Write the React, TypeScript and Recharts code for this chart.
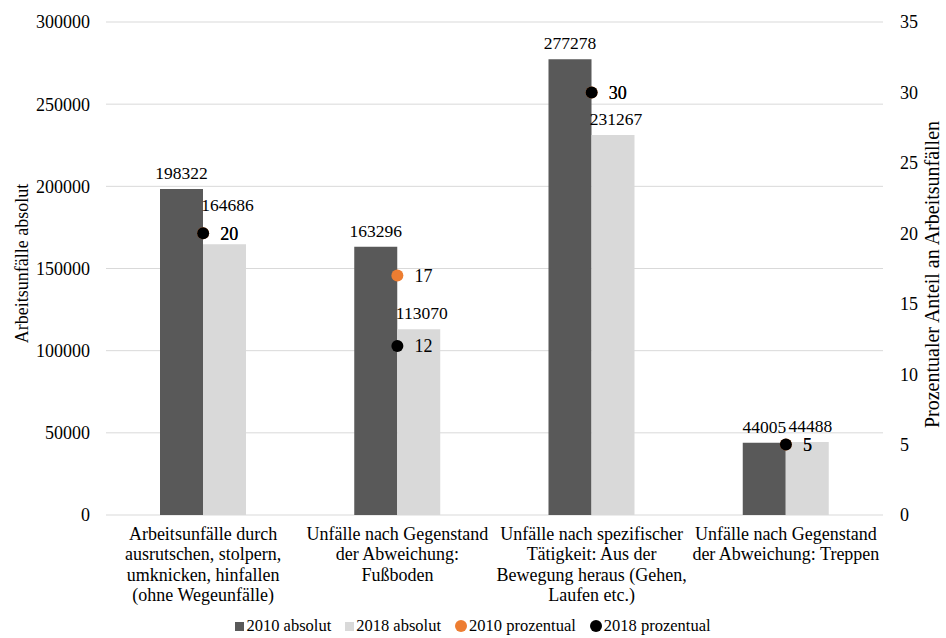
import {
  ComposedChart,
  Bar,
  Line,
  XAxis,
  YAxis,
  CartesianGrid,
  Legend,
  LabelList,
} from "recharts";

const categoryLines = [
  ["Arbeitsunfälle durch", "ausrutschen, stolpern,", "umknicken, hinfallen", "(ohne Wegeunfälle)"],
  ["Unfälle nach Gegenstand", "der Abweichung:", "Fußboden"],
  ["Unfälle nach spezifischer", "Tätigkeit: Aus der", "Bewegung heraus (Gehen,", "Laufen etc.)"],
  ["Unfälle nach Gegenstand", "der Abweichung: Treppen"],
];
const categories = categoryLines.map((l) => l.join(" "));

const absolut2010 = [198322, 163296, 277278, 44005];
const absolut2018 = [164686, 113070, 231267, 44488];
const prozent2010 = [20, 17, 30, 5];
const prozent2018 = [20, 12, 30, 5];

const leftTicks = [0, 50000, 100000, 150000, 200000, 250000, 300000];
const rightTicks = [0, 5, 10, 15, 20, 25, 30, 35];
const LEFT_MAX = 300000;
const RIGHT_MAX = 35;

const legendItems = [
  { name: "2010 absolut", color: "#595959", shape: "square" },
  { name: "2018 absolut", color: "#d9d9d9", shape: "square" },
  { name: "2010 prozentual", color: "#ed7d31", shape: "circle" },
  { name: "2018 prozentual", color: "#000000", shape: "circle" },
];

const data = categories.map((name, i) => ({
  name,
  a2010: absolut2010[i],
  a2018: absolut2018[i],
  p2010: prozent2010[i],
  p2018: prozent2018[i],
}));

const FONT = "Liberation Serif";
const FS = 18;
const LABEL_FS = 17.5;

function CategoryTick({ x, y, payload }: any) {
  const idx = categories.indexOf(payload.value);
  const lines = categoryLines[idx] || [payload.value];
  return (
    <text x={x} y={y} textAnchor="middle" fill="#000" fontSize={FS} fontFamily={FONT}>
      {lines.map((line, i) => (
        <tspan key={i} x={x} dy={i === 0 ? "0.71em" : 20.5}>
          {line}
        </tspan>
      ))}
    </text>
  );
}

// 2018 label moves up when the percentage point sits just above the bar top
function Label2018(props: any) {
  const { x, y, width, value, index } = props;
  const barFrac = absolut2018[index] / LEFT_MAX;
  const dotFrac = prozent2018[index] / RIGHT_MAX;
  const clash = dotFrac - barFrac > 0 && dotFrac - barFrac < 0.06;
  const ty = y - 10 - (clash ? 23 : 0);
  return (
    <text x={x + width / 2 + 3} y={ty} textAnchor="middle" fill="#000" fontSize={LABEL_FS} fontFamily={FONT}>
      {value}
    </text>
  );
}

function LegendContent() {
  return (
    <div style={{ display: "flex", justifyContent: "center", gap: 14, fontFamily: FONT, fontSize: 16.5, color: "#000", lineHeight: "20px" }}>
      {legendItems.map((it) => (
        <span key={it.name} style={{ display: "inline-flex", alignItems: "center" }}>
          <span
            style={{
              display: "inline-block",
              width: it.shape === "circle" ? 12 : 9,
              height: it.shape === "circle" ? 12 : 9,
              borderRadius: it.shape === "circle" ? "50%" : 0,
              background: it.color,
              marginRight: 2,
            }}
          />
          {it.name}
        </span>
      ))}
    </div>
  );
}

export default function App() {
  return (
    <div style={{ position: "absolute", left: 0, top: 0, fontFamily: FONT }}>
      <ComposedChart
        width={946}
        height={638}
        data={data}
        margin={{ top: 22, right: 0, left: 0, bottom: 2 }}
        barGap={0}
      >
        <CartesianGrid yAxisId="left" vertical={false} stroke="#d9d9d9" />
        <XAxis
          dataKey="name"
          axisLine={false}
          tickLine={false}
          tickSize={0}
          tickMargin={12}
          height={101}
          interval={0}
          tick={<CategoryTick />}
        />
        <YAxis
          yAxisId="left"
          width={106}
          domain={[0, LEFT_MAX]}
          ticks={leftTicks}
          axisLine={false}
          tickLine={false}
          tickSize={0}
          tickMargin={16}
          tick={{ fill: "#000", fontSize: FS, fontFamily: FONT }}
          label={{
            value: "Arbeitsunfälle absolut",
            angle: -90,
            position: "center",
            dx: -31,
            dy: -5,
            fill: "#000",
            fontSize: 18,
            fontFamily: FONT,
          }}
        />
        <YAxis
          yAxisId="right"
          orientation="right"
          width={63}
          domain={[0, RIGHT_MAX]}
          ticks={rightTicks}
          axisLine={false}
          tickLine={false}
          tickSize={0}
          tickMargin={17}
          tick={{ fill: "#000", fontSize: FS, fontFamily: FONT, textAnchor: "start" }}
          label={{
            value: "Prozentualer Anteil an Arbeitsunfällen",
            angle: -90,
            position: "center",
            dx: 17,
            dy: 6,
            fill: "#000",
            fontSize: 20,
            fontFamily: FONT,
          }}
        />
        <Bar
          yAxisId="left"
          dataKey="a2010"
          name="2010 absolut"
          fill="#595959"
          barSize={43}
          isAnimationActive={false}
        >
          <LabelList dataKey="a2010" position="top" offset={10} fill="#000" fontSize={LABEL_FS} fontFamily={FONT} />
        </Bar>
        <Bar
          yAxisId="left"
          dataKey="a2018"
          name="2018 absolut"
          fill="#d9d9d9"
          barSize={43}
          isAnimationActive={false}
        >
          <LabelList dataKey="a2018" content={<Label2018 />} />
        </Bar>
        <Line
          yAxisId="right"
          dataKey="p2010"
          name="2010 prozentual"
          stroke="#ed7d31"
          strokeWidth={0}
          dot={{ r: 6, fill: "#ed7d31", stroke: "#ed7d31", strokeWidth: 0 }}
          activeDot={false}
          isAnimationActive={false}
        >
          <LabelList dataKey="p2010" position="right" offset={17} fill="#000" fontSize={FS} fontFamily={FONT} />
        </Line>
        <Line
          yAxisId="right"
          dataKey="p2018"
          name="2018 prozentual"
          stroke="#000000"
          strokeWidth={0}
          dot={{ r: 6, fill: "#000", stroke: "#000", strokeWidth: 0 }}
          activeDot={false}
          isAnimationActive={false}
        >
          <LabelList dataKey="p2018" position="right" offset={17} fill="#000" fontSize={FS} fontFamily={FONT} />
        </Line>
        <Legend verticalAlign="bottom" content={<LegendContent />} />
      </ComposedChart>
    </div>
  );
}
